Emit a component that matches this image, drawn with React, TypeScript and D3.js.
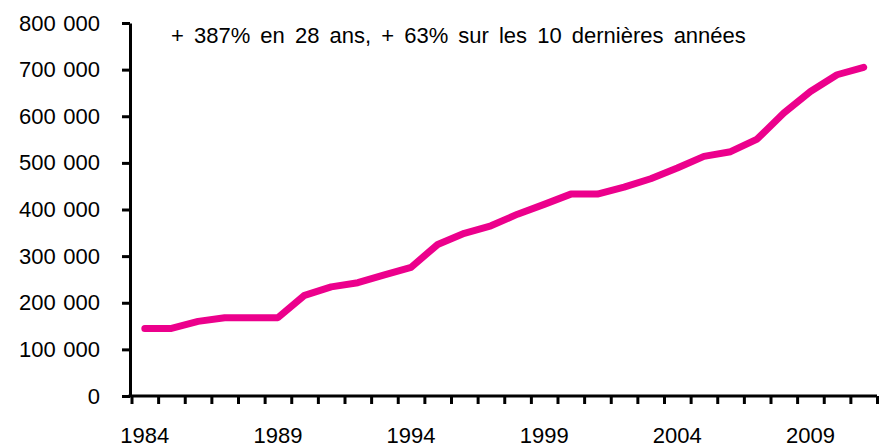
import React, { useEffect, useRef } from 'react';
import * as d3 from 'd3';

// Années et valeurs
const years = [
  1984, 1985, 1986, 1987, 1988, 1989, 1990, 1991, 1992, 1993,
  1994, 1995, 1996, 1997, 1998, 1999, 2000, 2001, 2002, 2003,
  2004, 2005, 2006, 2007, 2008, 2009, 2010, 2011,
];
const values = [
  145000, 145000, 160000, 168000, 168000, 168000, 216000, 234000, 243000, 260000,
  276000, 325000, 349000, 365000, 390000, 411000, 433000, 433000, 448000, 466000,
  489000, 514000, 524000, 551000, 607000, 653000, 689000, 705000,
];
const yTicks = [0, 100000, 200000, 300000, 400000, 500000, 600000, 700000, 800000];
const labelYears = [1984, 1989, 1994, 1999, 2004, 2009];
const title = '+ 387% en 28 ans, + 63% sur les 10 dernières années';

const FONT = '"Liberation Sans", Arial, sans-serif';

const App = () => {
  const svgRef = useRef<SVGSVGElement>(null);

  useEffect(() => {
    const svg = d3.select(svgRef.current);
    svg.selectAll('*').remove();

    const width = 885;
    const height = 448;
    const margin = { top: 23, left: 130 };
    const plotRight = 877;

    const x = d3.scaleBand<number>()
      .domain(years)
      .range([margin.left + 1.5, plotRight])
      .padding(0);

    // boundaries between categories, for the tick marks
    const xEdges = d3.scaleLinear()
      .domain([0, years.length])
      .range([margin.left + 1.5, plotRight]);

    const y = d3.scaleLinear()
      .domain([0, 800000])
      .range([396, margin.top]);

    const fmt = d3.formatLocale({ decimal: ',', thousands: ' ', grouping: [3], currency: ['', ' €'] }).format(',d');

    // y axis
    const yAxis = svg.append('g')
      .attr('transform', `translate(${margin.left},0)`)
      .call(d3.axisLeft(y).tickValues(yTicks).tickFormat(d => fmt(d as number)).tickSize(8).tickSizeOuter(0).tickPadding(22));
    yAxis.selectAll('text')
      .attr('font-family', FONT)
      .attr('font-size', 22)
      .attr('word-spacing', 1.5)
      .attr('fill', '#000');

    // x axis (ticks at category edges)
    const xAxis = svg.append('g')
      .attr('transform', `translate(0,${y(0)})`)
      .call(d3.axisBottom(xEdges).tickValues(d3.range(0, years.length + 1)).tickFormat(() => '').tickSize(8).tickSizeOuter(0));

    svg.selectAll('.domain, .tick line')
      .attr('stroke', '#000')
      .attr('stroke-width', 3);

    xAxis.select('.domain').attr('d', `M${margin.left - 1.5},0H${plotRight}`);

    // x labels
    svg.append('g')
      .selectAll('text')
      .data(labelYears)
      .enter().append('text')
      .attr('x', d => (x(d) as number) + x.bandwidth() / 2)
      .attr('y', 443)
      .attr('text-anchor', 'middle')
      .attr('font-family', FONT)
      .attr('font-size', 22)
      .attr('fill', '#000')
      .text(d => d);

    // line
    const line = d3.line<number>()
      .x((_, i) => (x(years[i]) as number) + x.bandwidth() / 2)
      .y(d => y(d));

    svg.append('path')
      .datum(values)
      .attr('d', line)
      .attr('fill', 'none')
      .attr('stroke', '#EC008C')
      .attr('stroke-width', 7)
      .attr('stroke-linejoin', 'round')
      .attr('stroke-linecap', 'round');

    // annotation
    svg.append('text')
      .attr('x', 171)
      .attr('y', 43)
      .attr('font-family', FONT)
      .attr('font-size', 22)
      .attr('word-spacing', 4)
      .attr('fill', '#000')
      .text(title);

    svg.attr('width', width).attr('height', height);
  }, []);

  return (
    <svg ref={svgRef} width={885} height={448} style={{ position: 'absolute', left: 0, top: 0, background: '#fff' }}></svg>
  );
};

export default App;
